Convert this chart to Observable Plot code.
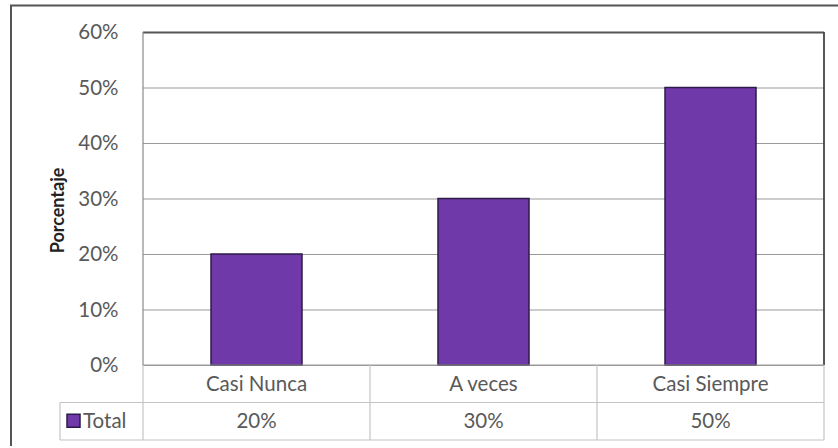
<!DOCTYPE html>
<html>
<head>
<meta charset="utf-8">
<script src="https://cdn.jsdelivr.net/npm/d3@7"></script>
<script src="https://cdn.jsdelivr.net/npm/@observablehq/plot@0.6"></script>
<style>
  html, body { margin: 0; padding: 0; background: #fff; }
  #chart { width: 838px; height: 448px; }
</style>
</head>
<body>
<div id="chart"></div>
<script>
const categories = ["Casi Nunca", "A veces", "Casi Siempre"];
const values = [0.20, 0.30, 0.50];
const valueLabels = ["20%", "30%", "50%"];
const yTicks = [0, 0.1, 0.2, 0.3, 0.4, 0.5, 0.6];
const seriesName = "Total";
const yLabel = "Porcentaje";

const data = categories.map((c, i) => ({cat: c, val: values[i], lab: valueLabels[i]}));

const FONT = "Lato, 'Open Sans', sans-serif";
const FS = 20.5;
const BAR = "#7039a9";
const BAR_STROKE = "#2d1b47";
const W = 838, H = 448;
const mL = 143, mR = 14, mT = 32, mB = 83;

const plot = Plot.plot({
  width: W,
  height: H,
  marginLeft: mL,
  marginRight: mR,
  marginTop: mT,
  marginBottom: mB,
  style: {fontFamily: FONT, fontSize: FS + "px", color: "#595959", background: "transparent"},
  x: {domain: categories, paddingInner: 0.6, paddingOuter: 0.3, axis: null},
  y: {domain: [0, 0.6], ticks: yTicks, tickFormat: d3.format(".0%"), label: null, tickSize: 0, tickPadding: 25},
  marks: [
    Plot.ruleY(yTicks, {stroke: "#9a9a9a", strokeWidth: 1.2}),
    Plot.ruleY([0.6], {stroke: "#555", strokeWidth: 2}),
    Plot.barY(data, {x: "cat", y: "val", fill: BAR, stroke: BAR_STROKE, strokeWidth: 1.5})
  ]
});

document.getElementById("chart").appendChild(plot);

// Data table + frame drawn from the plot's own scales
const svg = d3.select(plot);
const xs = plot.scale("x");
const ys = plot.scale("y");
const step = xs.step ?? ((xs.range[1] - xs.range[0]) / (categories.length - xs.paddingInner + 2 * xs.paddingOuter));
const bw = xs.bandwidth ?? step * (1 - xs.paddingInner);
const edges = categories.map(c => xs.apply(c) - (step - bw) / 2);
edges.push(edges[edges.length - 1] + step);
const y0 = ys.apply(0);
const yTop = ys.apply(0.6);
const rowH = 37.5;
const row1 = y0 + rowH;
const row2 = y0 + 2 * rowH;
const legendLeft = 60;

const g = svg.append("g").attr("fill", "none");
const gridC = "#c4c4c4";
// plot area sides
g.append("line").attr("x1", edges[0]).attr("x2", edges[0]).attr("y1", yTop).attr("y2", y0).attr("stroke", "#8a8a8a").attr("stroke-width", 1.2);
g.append("line").attr("x1", edges[3]).attr("x2", edges[3]).attr("y1", yTop).attr("y2", y0).attr("stroke", "#444").attr("stroke-width", 1.8);
// table horizontal lines
g.append("line").attr("x1", edges[0]).attr("x2", edges[3]).attr("y1", y0).attr("y2", y0).attr("stroke", "#9a9a9a").attr("stroke-width", 1.2);
g.append("line").attr("x1", legendLeft).attr("x2", edges[3]).attr("y1", row1).attr("y2", row1).attr("stroke", gridC).attr("stroke-width", 1.2);
g.append("line").attr("x1", legendLeft).attr("x2", edges[3]).attr("y1", row2).attr("y2", row2).attr("stroke", gridC).attr("stroke-width", 1.2);
g.append("line").attr("x1", legendLeft).attr("x2", legendLeft).attr("y1", row1).attr("y2", row2).attr("stroke", gridC).attr("stroke-width", 1.2);
edges.forEach(e => {
  g.append("line").attr("x1", e).attr("x2", e).attr("y1", y0).attr("y2", row2).attr("stroke", gridC).attr("stroke-width", 1.2);
});

const t = svg.append("g").attr("font-family", FONT).attr("font-size", FS).attr("fill", "#595959").attr("text-anchor", "middle");
categories.forEach((c, i) => {
  const cx = xs.apply(c) + bw / 2;
  t.append("text").attr("x", cx).attr("y", (y0 + row1) / 2).attr("dy", "0.35em").text(c);
  t.append("text").attr("x", cx).attr("y", (row1 + row2) / 2).attr("dy", "0.35em").text(valueLabels[i]);
});
// legend key
svg.append("rect").attr("x", 67).attr("y", (row1 + row2) / 2 - 7).attr("width", 13).attr("height", 13)
  .attr("fill", BAR).attr("stroke", BAR_STROKE).attr("stroke-width", 1.5);
svg.append("text").attr("x", 83).attr("y", (row1 + row2) / 2).attr("dy", "0.35em").attr("text-anchor", "start")
  .attr("font-family", FONT).attr("font-size", FS).attr("fill", "#595959").text(seriesName);

// y axis title
svg.append("text").attr("transform", `translate(64,${(yTop + y0) / 2 + 12}) rotate(-90)`)
  .attr("text-anchor", "middle").attr("font-family", FONT).attr("font-size", 18).attr("font-weight", "bold")
  .attr("fill", "#222").text(yLabel);

// outer chart border
svg.append("path").attr("d", `M${W + 2},5.5 H11 V446`).attr("fill", "none").attr("stroke", "#555").attr("stroke-width", 2);
</script>
</body>
</html>
